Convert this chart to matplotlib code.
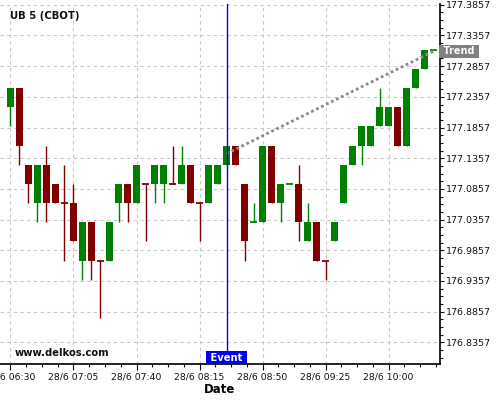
import numpy as np
import pandas as pd
import matplotlib
matplotlib.use("Agg")
import matplotlib.pyplot as plt
import matplotlib.dates as mdates
from matplotlib.ticker import FixedLocator, AutoMinorLocator, MultipleLocator

# UB futures quoted in 32nds above 177
base = 177.0
open_32 = [7, 8, 4, 2, 4, 3, 2, 2, -1, 1, -1, -1, 2, 3, 2, 3, 3, 3, 3, 3, 4, 2, 2, 3,
           4, 5, 3, 1, 1, 5, 2, 3, 3, 0, 1, -1, 0, 2, 4, 5, 5, 6, 6, 7, 5, 8, 9, 10]
high_32 = [8, 8, 4, 4, 5, 3, 4, 3, 1, 1, -1, 1, 3, 3, 4, 3, 4, 4, 5, 5, 4, 2, 4, 4,
           5, 5, 3, 2, 5, 5, 3, 3, 4, 2, 1, -1, 1, 4, 5, 6, 6, 8, 7, 7, 8, 9, 10, 10]
low_32 = [6, 4, 2, 1, 1, 2, -1, 0, -2, -2, -4, -1, 1, 1, 2, 0, 2, 2, 3, 3, 2, 0, 2, 3,
          4, 4, -1, 1, 1, 2, 1, 3, 0, 0, -1, -2, 0, 2, 4, 4, 5, 6, 6, 5, 5, 8, 9, 10]
close_32 = [8, 5, 3, 4, 2, 2, 2, 0, 1, -1, -1, 1, 3, 2, 4, 3, 4, 4, 3, 4, 2, 2, 4, 4,
            5, 4, 0, 1, 5, 2, 3, 3, 1, 1, -1, -1, 1, 4, 5, 6, 6, 7, 7, 5, 8, 9, 10, 10]
doji_up = [27, 31, 47]  # flat candles drawn green

times = pd.date_range("2017-06-28 06:30", periods=len(open_32), freq="5min")

tick_labels = ["28/6 06:30", "28/6 07:05", "28/6 07:40", "28/6 08:15",
               "28/6 08:50", "28/6 09:25", "28/6 10:00"]
tick_times = pd.to_datetime(["2017-06-28 06:30", "2017-06-28 07:05", "2017-06-28 07:40",
                             "2017-06-28 08:15", "2017-06-28 08:50", "2017-06-28 09:25",
                             "2017-06-28 10:00"])

event_time = pd.Timestamp("2017-06-28 08:30")
trend_times = pd.to_datetime(["2017-06-28 08:30", "2017-06-28 10:25"])
trend_vals = [177.143, 177.31]

o = base + np.array(open_32) / 32
h = base + np.array(high_32) / 32
l = base + np.array(low_32) / 32
c = base + np.array(close_32) / 32
x = mdates.date2num(times)

green = "#008000"
red = "#800000"
cols = []
for i in range(len(o)):
    if c[i] > o[i] or (c[i] == o[i] and i in doji_up):
        cols.append(green)
    else:
        cols.append(red)

fig = plt.figure(figsize=(5, 4), dpi=100)
ax = fig.add_axes([0.0, 0.09, 0.88, 0.90])

w = 3.9 / 1440
ax.vlines(x, l, h, colors=cols, lw=1, zorder=3)
for i in range(len(o)):
    if c[i] == o[i]:
        ax.hlines(o[i], x[i] - w / 2, x[i] + w / 2, colors=cols[i], lw=1.3, zorder=4)
    else:
        ax.bar(x[i], c[i] - o[i], bottom=o[i], width=w, color=cols[i], zorder=4)

# trend
ax.plot(mdates.date2num(trend_times), trend_vals, color="#8c8c8c", lw=2,
        linestyle=(0, (1, 1)), zorder=5)
ax.text(1.0, trend_vals[1], " Trend ", transform=ax.get_yaxis_transform(),
        ha="left", va="center", color="white", fontsize=7, fontweight="bold",
        bbox=dict(boxstyle="square,pad=0.15", fc="#808080", ec="none"), zorder=6,
        clip_on=False)

# event
ex = mdates.date2num(event_time)
ax.axvline(ex, color="#0000ff", lw=1, zorder=6)
ax.text(ex, 0.004, " Event ", transform=ax.get_xaxis_transform(), ha="center", va="bottom",
        color="white", fontsize=7.2, fontweight="bold",
        bbox=dict(boxstyle="square,pad=0.15", fc="#0000ff", ec="none"), zorder=7)

ax.text(0.023, 0.968, "UB 5 (CBOT)", transform=ax.transAxes, ha="left", va="center",
        fontsize=7.3, fontweight="bold", color="#111111")
ax.text(0.034, 0.03, "www.delkos.com", transform=ax.transAxes, ha="left", va="center",
        fontsize=7.2, fontweight="bold", color="#111111")

ax.set_xlim(mdates.date2num(times[0] - pd.Timedelta(minutes=5.83)),
            mdates.date2num(times[0] + pd.Timedelta(minutes=238.6)))
ax.set_ylim(176.8003, 177.387)

ax.xaxis.set_major_locator(FixedLocator(mdates.date2num(tick_times)))
ax.set_xticklabels(tick_labels)
ax.xaxis.set_minor_locator(AutoMinorLocator(4))
ax.yaxis.set_major_locator(FixedLocator(176.8357 + 0.05 * np.arange(12)))
ax.yaxis.set_major_formatter(matplotlib.ticker.FormatStrFormatter("%.4f"))
ax.yaxis.set_minor_locator(AutoMinorLocator(4))
ax.yaxis.tick_right()

ax.tick_params(axis="x", which="major", length=4, width=0.8, pad=2, labelsize=6.7, colors="#111111")
ax.tick_params(axis="x", which="minor", length=2, width=0.8, colors="#111111")
ax.tick_params(axis="y", which="major", length=3, width=0.8, pad=1.5, labelsize=6.8, colors="#111111")
ax.tick_params(axis="y", which="minor", length=2, width=0.8, colors="#111111")

for s in ["top", "left"]:
    ax.spines[s].set_visible(False)
ax.spines["right"].set_linewidth(1.2)
ax.spines["bottom"].set_linewidth(1.2)

ax.grid(True, which="major", color="#c8c8c8", lw=0.8, linestyle=(0, (3, 3)), zorder=0)
ax.set_xlabel("Date", fontsize=8.5, fontweight="bold", labelpad=1)

fig.savefig("out.png", dpi=100)
